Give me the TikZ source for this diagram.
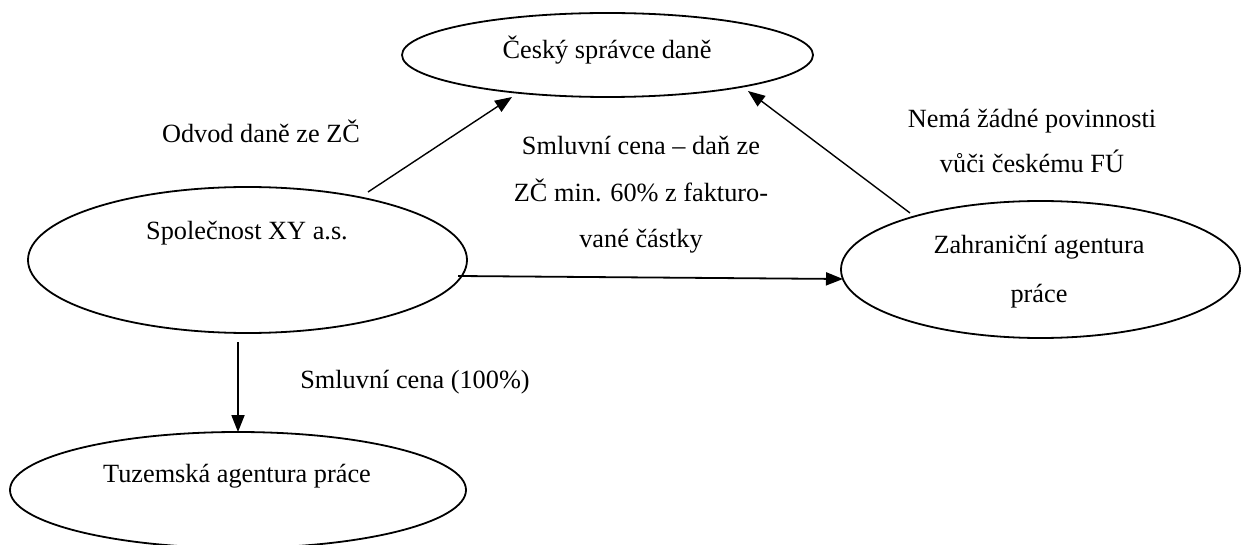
\documentclass[tikz,border=0pt]{standalone}
\usepackage{fontspec}
\setmainfont{Liberation Serif}
\usetikzlibrary{shapes.geometric,arrows.meta}

\tikzset{
  bubble/.style={ellipse, draw, line width=1.8pt, inner sep=0pt, outer sep=0pt},
  % base anchor of a multi-line text sits on its last line
  txt/.style={inner sep=0pt, anchor=base, align=center,
              font=\fontsize{26.3}{46.5}\selectfont},
  flow/.style={line width=1.8pt, -{Triangle[length=17pt,width=13pt]}},
  thinflow/.style={line width=1.4pt, -{Triangle[length=17pt,width=13pt]}}
}

\begin{document}
\begin{tikzpicture}[x=1pt,y=-1pt]
  \useasboundingbox (0,0) rectangle (1242,545);
  \clip (0,0) rectangle (1242,545);

  % parties
  \node[bubble, minimum width=411pt, minimum height=84pt]  (cs) at (607.5,55) {};
  \node[bubble, minimum width=439pt, minimum height=146pt] (sp) at (247.5,260) {};
  \node[bubble, minimum width=399pt, minimum height=137pt] (za) at (1040.5,269.5) {};
  \node[bubble, minimum width=456pt, minimum height=116pt] (tu) at (238,490) {};

  % party names
  \node[txt] (csT) at (607,59) {Český správce daně};
  \node[txt] (spT) at (247,240) {Společnost XY a.s.};
  \node[txt, font=\fontsize{26.3}{48}\selectfont] (zaT) at (1039,302) {Zahraniční agentura\\práce};
  \node[txt] (tuT) at (237,482) {Tuzemská agentura práce};

  % relations
  \draw[thinflow] ([shift={(120.5,-68)}]sp.center) -- ([shift={(-95.5,42)}]cs.center);
  \draw[thinflow] ([shift={(-130.5,-56.5)}]za.center) -- ([shift={(140.5,36)}]cs.center);
  \draw[flow] ([shift={(210.5,16)}]sp.center) -- ([shift={(-197.5,9.5)}]za.center);
  \draw[flow] ([shift={(-9.5,82)}]sp.center) -- (tu.north);

  % relation labels
  \node[txt] (l1) at (261,143) {Odvod daně ze ZČ};
  \node[txt] (l2) at (641,248) {Smluvní cena – daň ze\\ZČ min. 60\% z fakturo-\\vané částky};
  \node[txt, font=\fontsize{26.3}{45}\selectfont] (l3) at (1032,173) {Nemá žádné povinnosti\\vůči českému FÚ};
  \node[txt] (l4) at (415,388) {Smluvní cena (100\%)};
\end{tikzpicture}
\end{document}
